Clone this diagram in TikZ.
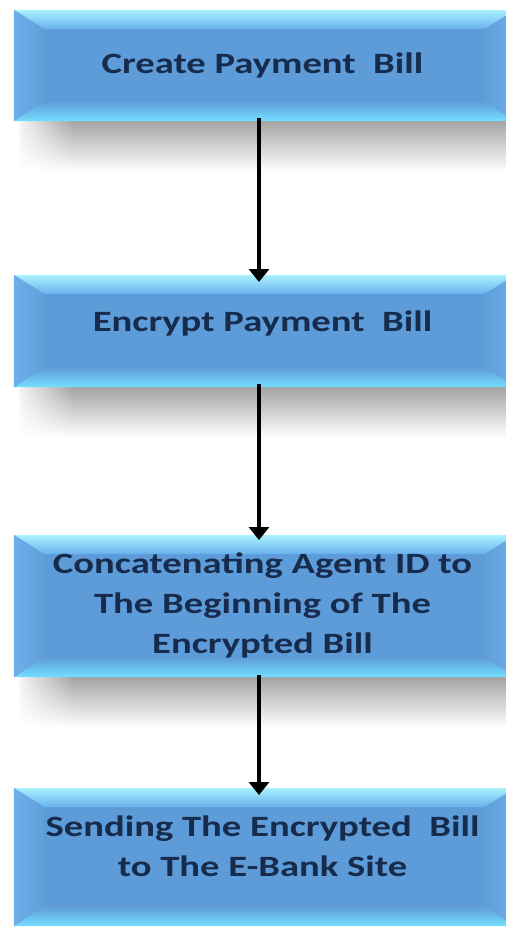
\documentclass[tikz,border=0pt]{standalone}
\usepackage{fontspec}
\setmainfont{Carlito}
\usepackage{graphicx}
\usetikzlibrary{arrows.meta,fadings}

\definecolor{face}{HTML}{5E9CD9}
\definecolor{topout}{HTML}{AAF1FF}
\definecolor{topin}{HTML}{68B2EC}
\definecolor{botout}{HTML}{74DEFF}
\definecolor{sideout}{HTML}{6EAEEA}
\definecolor{sidein}{HTML}{619FDB}
\definecolor{ink}{HTML}{172B4D}
\definecolor{shadowgray}{HTML}{A3A3A3}
\definecolor{shadowmid}{HTML}{C6C6C6}

% horizontally widened, centred lines of a box label
\newcommand\boxlines[1]{\scalebox{1.31}[1]{\begin{tabular}[t]{@{}c@{}}#1\end{tabular}}}

% bevel faces of a box node: top, bottom, left, right
\newcommand\bevel[1]{%
  \coordinate (#1-a) at ([shift={(30,19)}]#1.north west);
  \coordinate (#1-b) at ([shift={(-30,19)}]#1.north east);
  \coordinate (#1-c) at ([shift={(-30,-20)}]#1.south east);
  \coordinate (#1-d) at ([shift={(30,-20)}]#1.south west);
  \shade[top color=topout, bottom color=topin]
    (#1.north west) -- (#1.north east) -- (#1-b) -- (#1-a) -- cycle;
  \shade[top color=face, bottom color=botout]
    (#1-d) -- (#1-c) -- (#1.south east) -- (#1.south west) -- cycle;
  \shade[left color=sideout, right color=sidein]
    (#1.north west) -- (#1-a) -- (#1-d) -- (#1.south west) -- cycle;
  \shade[left color=sidein, right color=sideout]
    (#1-b) -- (#1.north east) -- (#1.south east) -- (#1-c) -- cycle;
}

% soft shadow below a box node
\newcommand\softshadow[1]{%
  \shade[top color=shadowgray, middle color=shadowmid, bottom color=white]
    ([xshift=6bp]#1.south west) rectangle ([shift={(0,50)}]#1.south east);
  \fill[white, path fading=east]
    ([xshift=-2bp]#1.south west) rectangle ([shift={(60,52)}]#1.south west);
}

\begin{document}
\begin{tikzpicture}[x=1bp, y=-1bp,
  box/.style={rectangle, fill=face, inner sep=0pt, outer sep=0pt,
              minimum width=501bp},
  txt/.style={inner sep=0pt, anchor=base, text=ink,
              font=\fontsize{29.5bp}{40bp}\selectfont\bfseries},
  arr/.style={line width=4bp, black,
              -{Triangle[width=20bp, length=13bp]}}]

\useasboundingbox (0,0) rectangle (506,927);
\clip (0,0) rectangle (506,927);

\coordinate (ax) at (259,0);

% box outlines (placed first so shadows can refer to them)
\path node[box, minimum height=111bp] (b1) at (264.5,65.5) {}
      node[box, minimum height=112bp] (b2) at (264.5,331) {}
      node[box, minimum height=142bp] (b3) at (264.5,606) {}
      node[box, minimum height=138bp] (b4) at (264.5,857) {};

% shadows
\softshadow{b1}
\softshadow{b2}
\softshadow{b3}

% filled boxes with bevels
\foreach \b in {b1,b2,b3,b4}{
  \fill[face] (\b.north west) rectangle (\b.south east);
  \bevel{\b}
}

% labels
\node[txt] (t1) at (262.5,73)  {\boxlines{Create Payment~~Bill}};
\node[txt] (t2) at (262.5,331) {\boxlines{Encrypt Payment~~Bill}};
\node[txt] (t3) at (262.5,573) {\boxlines{Concatenating Agent ID to\\The Beginning of The\\Encrypted Bill}};
\node[txt] (t4) at (262.5,836) {\boxlines{Sending The Encrypted~~Bill\\to The E-Bank Site}};

% connectors
\draw[arr] ([yshift=3bp]ax |- b1.south) -- ([yshift=-7bp]ax |- b2.north);
\draw[arr] ([yshift=3bp]ax |- b2.south) -- ([yshift=-5bp]ax |- b3.north);
\draw[arr] ([yshift=2bp]ax |- b3.south) -- ([yshift=-7bp]ax |- b4.north);

\end{tikzpicture}
\end{document}
